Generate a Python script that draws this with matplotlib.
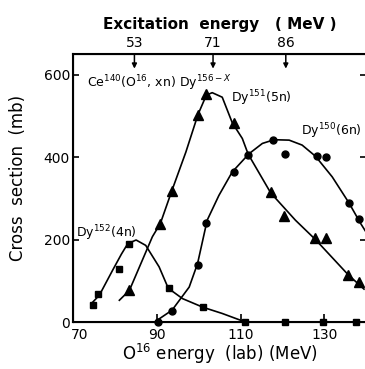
#!/usr/bin/env python3

import matplotlib
matplotlib.use('Agg')
import matplotlib.pyplot as plt
import matplotlib.transforms as mtransforms

# Dy152 (4n) - squares
sq_x = [74.8, 76.0, 81.0, 83.2, 92.9, 101.0, 111.0, 120.6, 129.7, 137.6]
sq_y = [41, 67, 128, 190, 83, 36, 0, 0, 0, 0]
sq_curve_x = [74.3, 76.2, 79.4, 81.5, 83.0, 85.0, 87.3, 90.5, 92.7, 96.1, 101.0, 105.6, 111.2, 140]
sq_curve_y = [45, 65, 126, 165, 190, 199, 186, 134, 82, 57, 36, 21, 0, 0]

# Dy151 (5n) - triangles
tri_x = [83.4, 90.8, 93.5, 99.8, 101.8, 108.5, 117.2, 120.4, 127.9, 130.3, 135.7, 138.3]
tri_y = [79, 238, 318, 503, 553, 483, 315, 257, 203, 203, 115, 98]
tri_curve_x = [81.0, 83.4, 88.9, 90.8, 93.5, 96.9, 99.8, 101.8, 103.2, 105.6, 108.0, 110.4,
               111.8, 117.2, 123.1, 127.9, 135.7, 139.5]
tri_curve_y = [53, 77, 207, 239, 317, 412, 503, 550, 556, 545, 483, 445,
               407, 313, 247, 200, 115, 80]

# Dy150 (6n) - circles
circ_x = [90.3, 93.5, 99.8, 101.8, 108.3, 111.8, 117.7, 120.6, 128.2, 130.5, 135.9, 138.3]
circ_y = [0, 27, 138, 240, 364, 406, 442, 407, 402, 400, 289, 249]
circ_curve_x = [90.1, 93.6, 97.7, 99.7, 102.0, 104.8, 108.0, 112.0, 115.2, 118.0, 121.6,
                124.7, 127.9, 131.9, 135.9, 138.7, 140]
circ_curve_y = [5, 29, 85, 142, 247, 307, 364, 408, 433, 442, 441,
                429, 402, 352, 289, 239, 218]

# excitation energy markers (top axis)
exc_lab = [84.6, 103.4, 120.8]
exc_labels = ['53', '71', '86']

fig = plt.figure(figsize=(3.65, 3.69), dpi=100)
ax = fig.add_axes([0.201, 0.127, 0.802, 0.727])

ax.plot(sq_curve_x, sq_curve_y, color='black', lw=1.2)
ax.plot(tri_curve_x, tri_curve_y, color='black', lw=1.2)
ax.plot(circ_curve_x, circ_curve_y, color='black', lw=1.2)
ax.plot(sq_x, sq_y, 's', color='black', ms=5, clip_on=False)
ax.plot(tri_x, tri_y, '^', color='black', ms=7, clip_on=False)
ax.plot(circ_x, circ_y, 'o', color='black', ms=5, clip_on=False)

ax.set_xlim(70, 140)
ax.set_ylim(0, 650)
ax.set_xticks([70, 90, 110, 130])
ax.set_yticks([0, 200, 400, 600])
ax.tick_params(axis='x', direction='in', length=6, width=1.2, top=True, labelsize=10, pad=4)
ax.tick_params(axis='y', direction='in', length=4.5, width=1.2, right=True, labelsize=10, pad=2.5)
for s in ax.spines.values():
    s.set_linewidth(1.5)

# nudge the "70" label right so it clears the "0"
lbl70 = ax.get_xticklabels()[0]
lbl70.set_transform(mtransforms.offset_copy(lbl70.get_transform(), fig=fig, x=6, y=0, units='dots'))

ax.set_xlabel('O$^{16}$ energy  (lab) (MeV)', fontsize=12, labelpad=0)
ax.set_ylabel('Cross  section  (mb)', fontsize=12)
ax.yaxis.set_label_coords(-0.16, 0.537)

ax2 = ax.twiny()
ax2.set_xlim(ax.get_xlim())
ax2.set_xticks(exc_lab)
ax2.set_xticklabels(exc_labels)
ax2.tick_params(axis='x', length=0, labelsize=10, pad=3)
ax2.set_xlabel('Excitation  energy   ( MeV )', fontsize=11, labelpad=5, fontweight='bold')

for x in exc_lab:
    ax.annotate('', xy=(x, 1 - 0.055), xytext=(x, 1.0),
                xycoords=('data', 'axes fraction'),
                arrowprops=dict(arrowstyle='-|>', color='black', lw=1.1,
                                mutation_scale=7, shrinkA=0, shrinkB=0))

ax.text(73.3, 580, 'Ce$^{140}$(O$^{16}$, xn) Dy$^{156-X}$', fontsize=9, va='center')
ax.text(107.7, 542, 'Dy$^{151}$(5n)', fontsize=9, va='center')
ax.text(124.4, 462, 'Dy$^{150}$(6n)', fontsize=9, va='center')
ax.text(70.7, 215, 'Dy$^{152}$(4n)', fontsize=9, va='center')

fig.savefig('out.png', dpi=100)
plt.close()
